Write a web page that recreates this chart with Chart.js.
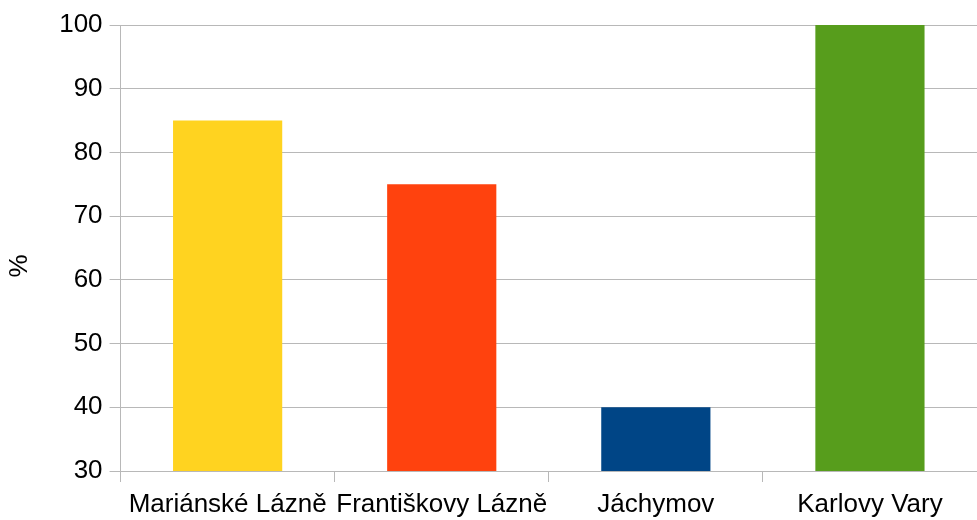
<!DOCTYPE html>
<html>
<head>
<meta charset="utf-8">
<script src="https://cdn.jsdelivr.net/npm/chart.js@4"></script>
<style>
  html, body { margin: 0; padding: 0; background: #fff; }
  #wrap { width: 977px; height: 520px; }
</style>
</head>
<body>
<div id="wrap"><canvas id="chart"></canvas></div>
<script>
const categories = ['Mariánské Lázně', 'Františkovy Lázně', 'Jáchymov', 'Karlovy Vary'];
const values = [85, 75, 40, 100];
const barColors = ['#FFD320', '#FF420E', '#004586', '#579D1C'];
const yTicks = [30, 40, 50, 60, 70, 80, 90, 100];

const GRID = '#b8b8b8';
Chart.defaults.font.family = "'Liberation Sans', Arial, sans-serif";
Chart.defaults.font.size = 26;
Chart.defaults.color = '#000';

new Chart(document.getElementById('chart'), {
    type: 'bar',
    data: {
        labels: categories,
        datasets: [{
            data: values,
            backgroundColor: barColors,
            borderWidth: 0,
            barPercentage: 0.51,
            categoryPercentage: 1
        }]
    },
    options: {
        responsive: true,
        maintainAspectRatio: false,
        animation: false,
        // negative bottom padding: chart.js counts tick padding twice in the axis height
        layout: { padding: { top: 25, right: 0, bottom: -8, left: 0 } },
        plugins: { legend: { display: false }, tooltip: { enabled: false } },
        scales: {
            x: {
                grid: { offset: true, drawOnChartArea: false, color: GRID, tickLength: 11, lineWidth: 1 },
                border: { color: GRID },
                ticks: { padding: 10, maxRotation: 0, autoSkip: false, font: { size: 26, lineHeight: 1 } }
            },
            y: {
                min: yTicks[0],
                max: yTicks[yTicks.length - 1],
                afterBuildTicks: (axis) => { axis.ticks = yTicks.map(v => ({ value: v })); },
                grid: { color: GRID, tickLength: 11, lineWidth: 1 },
                border: { color: GRID },
                ticks: { padding: 7 },
                // trailing spaces push the % sign down a little, as in the original
                title: { display: true, text: '%     ', font: { size: 26 }, padding: { top: 4, bottom: 17 } }
            }
        }
    }
});
</script>
</body>
</html>
